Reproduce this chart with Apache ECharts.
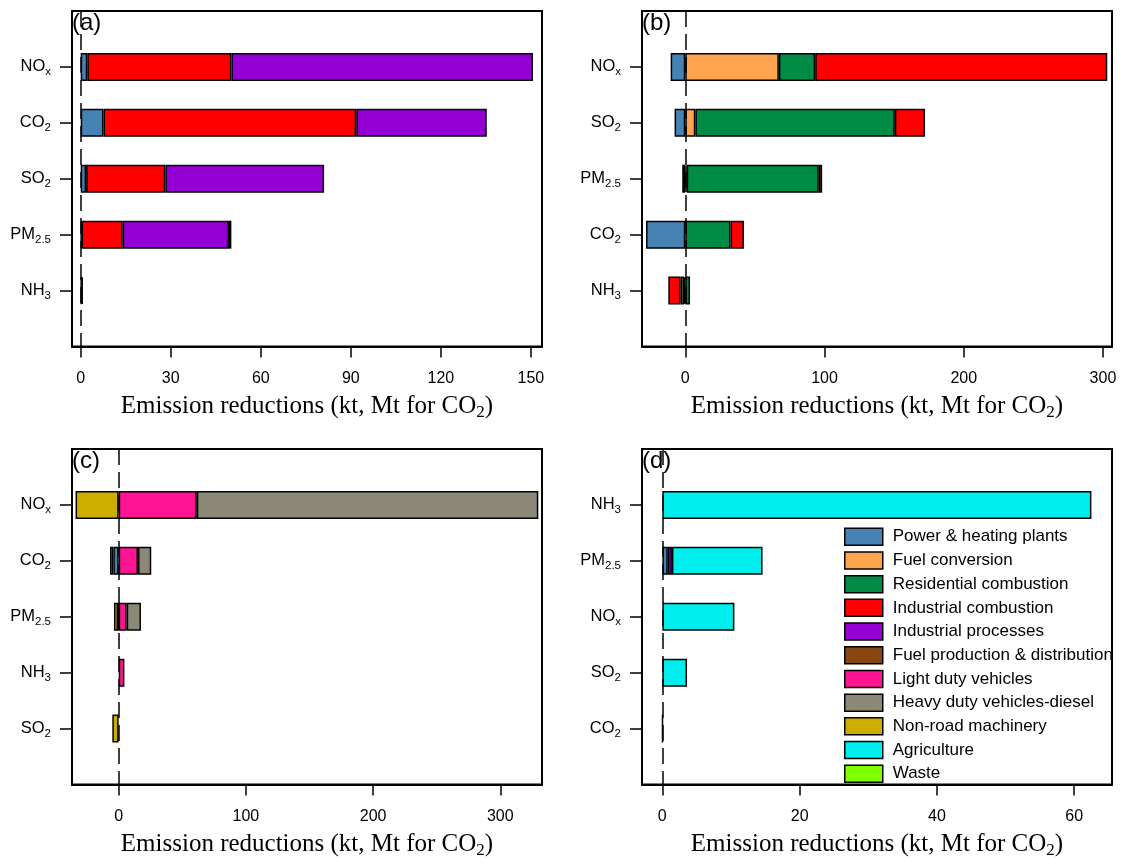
<!DOCTYPE html>
<html>
<head>
<meta charset="utf-8">
<script src="https://cdn.jsdelivr.net/npm/echarts@6/dist/echarts.min.js"></script>
<style>
  html, body { margin: 0; padding: 0; background: #fff; }
  #chart { width: 1127px; height: 864px; }
</style>
</head>
<body>
<div id="chart"></div>
<script>
// Emission sectors and their fill colours (shared by all four panels)
const sectors = [
  'Power & heating plants', 'Fuel conversion', 'Residential combustion',
  'Industrial combustion', 'Industrial processes', 'Fuel production & distribution',
  'Light duty vehicles', 'Heavy duty vehicles-diesel', 'Non-road machinery',
  'Agriculture', 'Waste'
];
const sectorColors = [
  '#4682B4', '#FFA54F', '#008B45', '#FF0000', '#9400D3', '#8B4513',
  '#FF1493', '#8B8878', '#CDAD00', '#00EEEE', '#7FFF00'
];

// Panel (a): rows listed top to bottom, one array per sector
const catsA = ['NOx', 'CO2', 'SO2', 'PM2.5', 'NH3'];
const valuesA = [
  [2.2, 7.6, 1.8, 0.3, null],
  [null, null, null, null, null],
  [null, null, null, null, null],
  [48.0, 84.2, 26.4, 13.7, 0.3],
  [100.5, 43.5, 52.9, 35.4, 0.4],
  [null, null, null, 0.8, null],
  [null, null, null, null, null],
  [null, null, null, null, null],
  [null, null, null, null, null],
  [null, null, null, null, null],
  [null, null, null, null, null]
];
const ticksA = [0, 30, 60, 90, 120, 150];

// Panel (b)
const catsB = ['NOx', 'SO2', 'PM2.5', 'CO2', 'NH3'];
const valuesB = [
  [-10.5, -7.7, -2.2, -28.2, -0.9],
  [67.2, 7.2, 1.0, null, -2.4],
  [26.1, 143.3, 94.9, 32.5, 3.4],
  [209.8, 21.7, null, 9.6, -8.9],
  [null, null, null, null, null],
  [null, null, 2.4, null, null],
  [null, null, null, null, null],
  [null, null, null, null, null],
  [null, null, null, null, null],
  [null, null, null, null, null],
  [null, null, null, null, null]
];
const ticksB = [0, 100, 200, 300];

// Panel (c)
const catsC = ['NOx', 'CO2', 'PM2.5', 'NH3', 'SO2'];
const valuesC = [
  [null, -4.2, -0.5, null, null],
  [null, null, null, null, null],
  [null, null, null, null, null],
  [null, null, null, null, null],
  [null, null, null, null, null],
  [null, null, null, null, null],
  [61.4, 15.2, 6.3, 4.5, null],
  [268.5, 10.4, 11.2, null, null],
  [-33.9, -2.6, -3.2, null, -5.0],
  [null, null, null, null, null],
  [null, null, null, null, null]
];
const ticksC = [0, 100, 200, 300];

// Panel (d)
const catsD = ['NH3', 'PM2.5', 'NOx', 'SO2', 'CO2'];
const valuesD = [
  [null, 0.8, null, null, null],
  [null, null, null, null, null],
  [null, null, null, null, null],
  [null, null, null, null, null],
  [null, 0.6, null, null, null],
  [null, null, null, null, null],
  [null, null, null, null, null],
  [null, null, null, null, null],
  [null, null, null, null, null],
  [62.5, 13.2, 10.5, 3.6, 0.05],
  [null, null, null, null, null]
];
const ticksD = [0, 20, 40, 60];

const panelTags = ['(a)', '(b)', '(c)', '(d)'];
const axisTitle = '{m|Emission reductions (kt, Mt for CO}{s|2}{m|)}';

const SANS = '"Liberation Sans", Arial, Helvetica, sans-serif';
const SERIF = '"Liberation Serif", "Times New Roman", Times, serif';

// Plot frames and x ranges of the four panels
const panels = [
  { cats: catsA, values: valuesA, ticks: ticksA, min: -2.9, max: 153.7, left: 72, top: 11 },
  { cats: catsB, values: valuesB, ticks: ticksB, min: -31.1, max: 306.5, left: 642, top: 11 },
  { cats: catsC, values: valuesC, ticks: ticksC, min: -36.7, max: 332.8, left: 72, top: 449 },
  { cats: catsD, values: valuesD, ticks: ticksD, min: -2.96, max: 65.5, left: 642, top: 449 }
];
const FRAME_W = 470, FRAME_H = 335.5;

// Pollutant names with subscripts
const pollutantLabel = {
  'NOx': '{m|NO}{s|x}',
  'CO2': '{m|CO}{s|2}',
  'SO2': '{m|SO}{s|2}',
  'PM2.5': '{m|PM}{s|2.5}',
  'NH3': '{m|NH}{s|3}'
};

const grid = [], xAxis = [], yAxis = [], series = [], graphic = [];

panels.forEach((p, i) => {
  grid.push({
    left: p.left, top: p.top, width: FRAME_W, height: FRAME_H,
    show: true, borderColor: '#000', borderWidth: 2, backgroundColor: 'transparent',
    containLabel: false
  });
  xAxis.push({
    type: 'value', gridIndex: i, min: p.min, max: p.max,
    splitLine: { show: false },
    axisLine: { show: true, onZero: false, lineStyle: { color: '#000', width: 2 } },
    axisTick: { show: true, length: 11, customValues: p.ticks, lineStyle: { color: '#000', width: 1.5 } },
    axisLabel: {
      customValues: p.ticks, color: '#000', fontFamily: SANS, fontSize: 16,
      lineHeight: 16, margin: 24
    },
    name: axisTitle, nameLocation: 'middle', nameGap: 45,
    nameTextStyle: {
      rich: {
        m: { fontFamily: SERIF, fontSize: 25, lineHeight: 30, color: '#000' },
        s: { fontFamily: SERIF, fontSize: 17, lineHeight: 16, color: '#000', verticalAlign: 'bottom' }
      }
    }
  });
  const cats = ['', ...p.cats, ' '];
  const inner = (idx) => idx > 0 && idx < cats.length - 1;
  yAxis.push({
    type: 'category', gridIndex: i, data: cats, inverse: true, boundaryGap: false,
    axisLine: { show: true, onZero: false, lineStyle: { color: '#000', width: 2 } },
    axisTick: { show: true, length: 12, interval: inner, lineStyle: { color: '#000', width: 1.5 } },
    axisLabel: {
      interval: inner, margin: 21,
      formatter: (v) => pollutantLabel[v] || '',
      rich: {
        m: { fontFamily: SANS, fontSize: 16.5, lineHeight: 22, color: '#000' },
        s: { fontFamily: SANS, fontSize: 11.5, lineHeight: 12, color: '#000', verticalAlign: 'bottom' }
      }
    },
    splitLine: { show: false }
  });
  sectors.forEach((name, s) => {
    const item = {
      type: 'bar', name: name, xAxisIndex: i, yAxisIndex: i, stack: 'panel' + i,
      barWidth: 28,
      data: ['-', ...p.values[s].map(v => (v == null ? '-' : v)), '-'],
      itemStyle: { color: sectorColors[s], borderColor: '#000', borderWidth: 1.5 },
      emphasis: { disabled: true },
      silent: true
    };
    if (s === 0) {
      // dashed zero reference line
      item.markLine = {
        silent: true, symbol: 'none', label: { show: false },
        lineStyle: { color: '#000', type: [16, 7], width: 1.5 },
        data: [{ xAxis: 0 }]
      };
    }
    series.push(item);
  });
  graphic.push({
    type: 'text', left: p.left, top: p.top, z: 100,
    style: { text: panelTags[i], font: '24px ' + SANS, fill: '#000' }
  });
});

const chart = echarts.init(document.getElementById('chart'), null, { renderer: 'canvas' });
chart.setOption({
  animation: false,
  backgroundColor: '#fff',
  grid, xAxis, yAxis, series, graphic,
  legend: {
    data: sectors, orient: 'vertical', left: 844, top: 527.5, padding: 0,
    itemWidth: 38, itemHeight: 17, itemGap: 5.2, icon: 'rect',
    selectedMode: false,
    itemStyle: { borderColor: '#000', borderWidth: 1.5 },
    textStyle: { fontFamily: SANS, fontSize: 17, lineHeight: 17, color: '#000', padding: [0, 0, 0, 5] }
  }
});
</script>
</body>
</html>
